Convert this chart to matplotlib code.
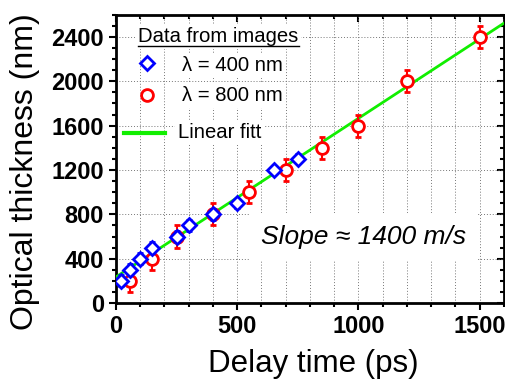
import numpy as np
import matplotlib.pyplot as plt
from matplotlib.ticker import MultipleLocator

plt.rcParams["font.family"] = ["Liberation Sans", "DejaVu Sans"]

# lambda = 400 nm data (blue diamonds)
t400 = [20, 60, 100, 150, 250, 300, 400, 500, 650, 750]
d400 = [200, 300, 400, 500, 600, 700, 800, 900, 1200, 1300]
e400 = [50, 50, 50, 50, 50, 50, 50, 40, 40, 40]

# lambda = 800 nm data (red circles)
t800 = [60, 150, 250, 400, 550, 700, 850, 1000, 1200, 1500]
d800 = [200, 400, 600, 800, 1000, 1200, 1400, 1600, 2000, 2400]
e800 = [100, 100, 100, 100, 100, 100, 100, 100, 100, 100]

# linear fit endpoints
fit_t = [0, 1600]
fit_d = [235, 2525]

green = "#11ee00"

fig = plt.figure(figsize=(5.06, 3.9), dpi=100)
ax = fig.add_axes([0.229, 0.223, 0.767, 0.739])

ax.plot(fit_t, fit_d, color=green, lw=2, zorder=3)
ax.errorbar(t400, d400, yerr=e400, fmt="D", ms=7, mfc="white", mec="blue",
            mew=2, ecolor="blue", elinewidth=1.5, capsize=2.5, capthick=1.5, zorder=5)
ax.errorbar(t800, d800, yerr=e800, fmt="o", ms=8.5, mfc="white", mec="red",
            mew=2, ecolor="red", elinewidth=1.5, capsize=2.5, capthick=1.5, zorder=4)

ax.set_xlim(0, 1600)
ax.set_ylim(0, 2600)
ax.xaxis.set_major_locator(MultipleLocator(500))
ax.xaxis.set_minor_locator(MultipleLocator(100))
ax.yaxis.set_major_locator(MultipleLocator(400))
ax.yaxis.set_minor_locator(MultipleLocator(100))

ax.grid(True, axis="x", which="both", ls=(0, (1, 2)), color="#777777", lw=0.7)
ax.grid(True, axis="y", which="major", ls=(0, (1, 2)), color="#777777", lw=0.7)
ax.set_axisbelow(True)

for s in ax.spines.values():
    s.set_linewidth(2)
ax.tick_params(which="both", direction="out", width=1.5, top=False, right=False,
               labelsize=17)
ax.tick_params(which="major", length=5)
ax.tick_params(which="minor", length=3)
for lab in ax.get_xticklabels() + ax.get_yticklabels():
    lab.set_fontweight("bold")

# inward ticks on top and right
axt = ax.secondary_xaxis("top")
axt.xaxis.set_major_locator(MultipleLocator(500))
axt.xaxis.set_minor_locator(MultipleLocator(100))
axt.tick_params(which="both", direction="in", width=1.5, labeltop=False)
axt.tick_params(which="major", length=5)
axt.tick_params(which="minor", length=3)
axr = ax.secondary_yaxis("right")
axr.yaxis.set_major_locator(MultipleLocator(400))
axr.yaxis.set_minor_locator(MultipleLocator(100))
axr.tick_params(which="both", direction="in", width=1.5, labelright=False)
axr.tick_params(which="major", length=5)
axr.tick_params(which="minor", length=3)

ax.set_xlabel("Delay time (ps)", fontsize=22.5)
ax.set_ylabel("Optical thickness (nm)", fontsize=23)
ax.xaxis.set_label_coords(0.51, -0.16)
ax.yaxis.set_label_coords(-0.195, 0.455)

# legend block, each text on a white patch that hides the grid
wb = dict(facecolor="white", edgecolor="none", pad=2)
ax.text(0.057, 0.924, "Data from images", transform=ax.transAxes, fontsize=14.6,
        va="center", zorder=6, bbox=wb)
ax.plot([0.057, 0.472], [0.892, 0.892], transform=ax.transAxes, color="black",
        lw=1, zorder=7)
ax.plot([0.080], [0.833], transform=ax.transAxes, marker="D", ms=7, mfc="white",
        mec="blue", mew=2, zorder=6)
ax.text(0.170, 0.823, "λ = 400 nm", transform=ax.transAxes, fontsize=14.6,
        va="center", zorder=6, bbox=wb)
ax.plot([0.080], [0.722], transform=ax.transAxes, marker="o", ms=8.5, mfc="white",
        mec="red", mew=2, zorder=6)
ax.text(0.170, 0.719, "λ = 800 nm", transform=ax.transAxes, fontsize=14.6,
        va="center", zorder=6, bbox=wb)
ax.plot([0.021, 0.126], [0.590, 0.590], transform=ax.transAxes, color=green,
        lw=3, zorder=6)
ax.text(0.160, 0.590, "Linear fitt", transform=ax.transAxes, fontsize=14.6,
        va="center", zorder=6, bbox=wb)

ax.text(1020, 600, "Slope ≈ 1400 m/s", fontsize=19, style="italic",
        ha="center", va="center", zorder=2,
        bbox=dict(facecolor="white", edgecolor="none", pad=8))

fig.savefig("out.png", dpi=100)
